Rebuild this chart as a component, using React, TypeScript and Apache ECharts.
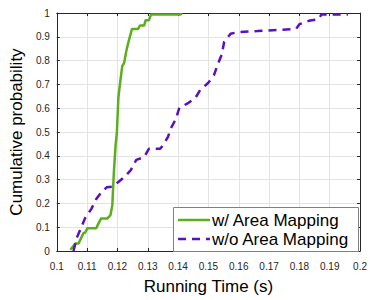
import React, { useEffect, useRef } from "react";
import * as echarts from "echarts";

const seriesNames = ["w/ Area Mapping", "w/o Area Mapping"];
const seriesColors = ["#5cae1e", "#5a10c0"];

const wTime = [0.1045, 0.1061, 0.1072, 0.1088, 0.1093, 0.1101, 0.113, 0.1146, 0.1167, 0.1177, 0.1183, 0.1188, 0.1194, 0.1198, 0.1203, 0.1209, 0.1216, 0.1222, 0.123, 0.1238, 0.1248, 0.1268, 0.1274, 0.1288, 0.1293, 0.1304, 0.1311, 0.1409, 0.141];
const wProb = [0.005, 0.032, 0.032, 0.076, 0.076, 0.096, 0.096, 0.137, 0.137, 0.151, 0.191, 0.326, 0.447, 0.495, 0.643, 0.71, 0.778, 0.79, 0.845, 0.886, 0.933, 0.933, 0.947, 0.947, 0.97, 0.97, 0.994, 0.994, 1];

const woTime = [0.1055, 0.1066, 0.1082, 0.1093, 0.1114, 0.113, 0.1146, 0.1165, 0.1183, 0.1203, 0.1225, 0.1244, 0.1262, 0.1288, 0.1304, 0.1341, 0.1351, 0.1367, 0.1378, 0.1393, 0.1404, 0.143, 0.1457, 0.1473, 0.1499, 0.1518, 0.1531, 0.1544, 0.1552, 0.1573, 0.1599, 0.1662, 0.1789, 0.18, 0.1831, 0.1863, 0.1873, 0.196];
const woProb = [0, 0.056, 0.103, 0.137, 0.177, 0.218, 0.245, 0.268, 0.27, 0.29, 0.313, 0.34, 0.383, 0.394, 0.43, 0.43, 0.445, 0.481, 0.52, 0.555, 0.602, 0.619, 0.643, 0.677, 0.706, 0.738, 0.785, 0.825, 0.879, 0.913, 0.92, 0.924, 0.933, 0.953, 0.967, 0.974, 0.994, 0.994];

const xMin = 0.1, xMax = 0.2, xStep = 0.01;
const yMin = 0, yMax = 1, yStep = 0.1;
const xTitle = "Running Time (s)";
const yTitle = "Cumulative probability";

const FONT = "'Liberation Sans', Arial, Helvetica, sans-serif";
const AXIS = "#262626";
const DASH = [8, 6];

export default function App() {
  const ref = useRef<HTMLDivElement>(null);
  useEffect(() => {
    if (!ref.current) return;
    const chart = echarts.init(ref.current, null, { renderer: "svg" });
    const zip = (a: number[], b: number[]) => a.map((v, i) => [v, b[i]]);
    const axisCommon = {
      axisLine: { show: true, onZero: false, lineStyle: { color: AXIS, width: 1 } },
      axisTick: { show: true, inside: true, length: 3, lineStyle: { color: AXIS } },
    };
    const legendRows = [220, 239];
    chart.setOption({
      animation: false,
      textStyle: { fontFamily: FONT },
      grid: { left: 49, right: 5, top: 13, bottom: 40, containLabel: false },
      graphic: [
        {
          type: "rect", shape: { x: 173.5, y: 207.5, width: 185, height: 44 },
          style: { fill: "#ffffff", stroke: "#808080", lineWidth: 1 }, z: 100,
        },
        ...seriesNames.flatMap((name, i) => [
          {
            type: "line", shape: { x1: 178, y1: legendRows[i], x2: 210, y2: legendRows[i] },
            style: { stroke: seriesColors[i], lineWidth: 2.5, lineDash: i === 1 ? DASH : null }, z: 101,
          },
          {
            type: "text", x: 212, y: legendRows[i],
            style: { text: name, fill: "#000", font: `17px ${FONT}`, textVerticalAlign: "middle", verticalAlign: "middle" },
            z: 101,
          },
        ]),
      ],
      xAxis: [
        {
          type: "value", min: xMin, max: xMax, interval: xStep, position: "bottom",
          ...axisCommon,
          axisLabel: { fontSize: 10, color: AXIS, margin: 10, fontFamily: FONT },
          splitLine: { show: true, lineStyle: { color: "#e3e3e3", width: 1 } },
          name: xTitle, nameLocation: "middle", nameGap: 27,
          nameTextStyle: { fontSize: 17, color: "#000", fontFamily: FONT },
        },
        {
          type: "value", min: xMin, max: xMax, interval: xStep, position: "top",
          ...axisCommon,
          axisLabel: { show: false }, splitLine: { show: false },
        },
      ],
      yAxis: [
        {
          type: "value", min: yMin, max: yMax, interval: yStep, position: "left",
          ...axisCommon,
          axisLabel: { fontSize: 10, color: AXIS, margin: 7, fontFamily: FONT },
          splitLine: { show: true, lineStyle: { color: "#e3e3e3", width: 1 } },
          name: yTitle, nameLocation: "middle", nameGap: 20,
          nameTextStyle: { fontSize: 17, color: "#000", fontFamily: FONT },
        },
        {
          type: "value", min: yMin, max: yMax, interval: yStep, position: "right",
          ...axisCommon,
          axisLabel: { show: false }, splitLine: { show: false },
        },
      ],
      series: [
        {
          name: seriesNames[0], type: "line", data: zip(wTime, wProb),
          showSymbol: false, symbol: "none", color: seriesColors[0],
          lineStyle: { width: 2.5, color: seriesColors[0] },
        },
        {
          name: seriesNames[1], type: "line", data: zip(woTime, woProb),
          showSymbol: false, symbol: "none", color: seriesColors[1],
          lineStyle: { width: 2.5, color: seriesColors[1], type: DASH },
        },
      ],
    });
    return () => chart.dispose();
  }, []);
  return <div ref={ref} style={{ width: 370, height: 300, position: "absolute", left: 0, top: 0 }} />;
}
